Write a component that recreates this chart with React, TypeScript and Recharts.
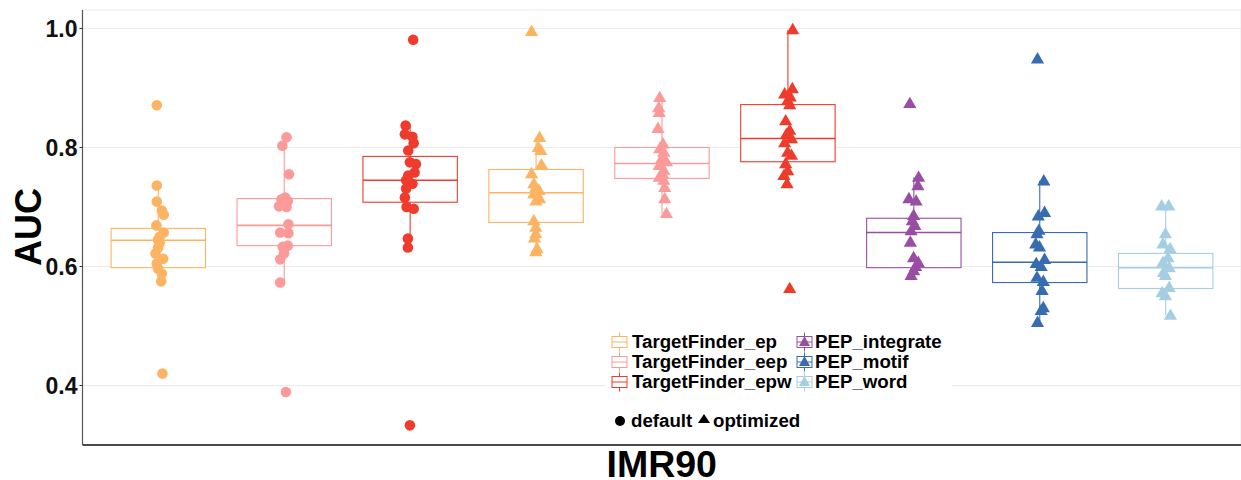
import React from 'react';
import { ComposedChart, Bar, Scatter, XAxis, YAxis, CartesianGrid, Label } from 'recharts';

const categories = [
  'ep_default', 'eep_default', 'epw_default',
  'ep_optimized', 'eep_optimized', 'epw_optimized',
  'integrate_optimized', 'motif_optimized', 'word_optimized',
];
const methods = [
  'TargetFinder_ep', 'TargetFinder_eep', 'TargetFinder_epw',
  'TargetFinder_ep', 'TargetFinder_eep', 'TargetFinder_epw',
  'PEP_integrate', 'PEP_motif', 'PEP_word',
];
const modes = ['default', 'default', 'default', 'optimized', 'optimized', 'optimized', 'optimized', 'optimized', 'optimized'];
const colors = ['#FDB462', '#FB9A99', '#EF3B2C', '#FDB462', '#FB9A99', '#EF3B2C', '#984EA3', '#386CB0', '#A6CEE3'];

// box statistics
const whiskerLow = [0.576, 0.573, 0.632, 0.625, 0.689, 0.738, 0.582, 0.506, 0.518];
const q1 = [0.598, 0.635, 0.708, 0.674, 0.748, 0.776, 0.598, 0.573, 0.563];
const median = [0.644, 0.669, 0.745, 0.724, 0.773, 0.815, 0.657, 0.607, 0.598];
const q3 = [0.664, 0.714, 0.785, 0.763, 0.800, 0.872, 0.681, 0.657, 0.622];
const whiskerHigh = [0.736, 0.803, 0.837, 0.817, 0.884, 0.998, 0.750, 0.744, 0.702];

// individual AUC values per group
const aucValues: number[][] = [
  [0.871, 0.736, 0.709, 0.694, 0.687, 0.669, 0.657, 0.650, 0.645, 0.640, 0.632, 0.622, 0.613, 0.605, 0.596, 0.588, 0.575, 0.420],
  [0.817, 0.803, 0.755, 0.716, 0.713, 0.710, 0.701, 0.700, 0.671, 0.657, 0.656, 0.635, 0.633, 0.622, 0.612, 0.573, 0.389],
  [0.981, 0.837, 0.822, 0.818, 0.807, 0.795, 0.775, 0.772, 0.758, 0.753, 0.745, 0.739, 0.731, 0.716, 0.700, 0.697, 0.647, 0.632, 0.333],
  [0.995, 0.817, 0.800, 0.795, 0.771, 0.756, 0.739, 0.733, 0.728, 0.722, 0.714, 0.710, 0.677, 0.666, 0.655, 0.648, 0.630, 0.625],
  [0.884, 0.867, 0.859, 0.832, 0.806, 0.798, 0.792, 0.781, 0.776, 0.770, 0.762, 0.756, 0.750, 0.745, 0.733, 0.714, 0.689],
  [0.998, 0.899, 0.890, 0.885, 0.879, 0.872, 0.845, 0.829, 0.822, 0.815, 0.808, 0.792, 0.787, 0.773, 0.761, 0.753, 0.739, 0.563],
  [0.874, 0.750, 0.736, 0.714, 0.710, 0.686, 0.677, 0.669, 0.660, 0.641, 0.615, 0.607, 0.600, 0.593, 0.585],
  [0.949, 0.744, 0.691, 0.685, 0.661, 0.655, 0.638, 0.633, 0.612, 0.605, 0.600, 0.582, 0.575, 0.560, 0.531, 0.526, 0.506],
  [0.702, 0.702, 0.655, 0.638, 0.630, 0.615, 0.607, 0.598, 0.590, 0.585, 0.565, 0.556, 0.551, 0.518],
];
// horizontal jitter of each point (in category units)
const jitter: number[][] = [
  [-0.01, -0.01, -0.01, 0.03, 0.045, -0.013, 0.045, 0.013, 0, 0.013, 0, -0.02, 0.04, -0.01, 0, 0.03, 0.025, 0.035],
  [0.02, -0.013, 0.04, 0.01, -0.02, 0.03, -0.04, 0.02, 0.035, -0.03, 0.035, 0.03, -0.01, 0, -0.03, -0.03, 0.015],
  [0.026, -0.034, -0.04, 0.02, 0.03, -0.013, 0, 0.048, 0.037, -0.013, -0.03, 0.02, -0.03, -0.04, -0.026, 0.03, -0.016, -0.016, 0],
  [-0.034, 0.03, 0.02, 0.04, 0.045, -0.034, -0.016, 0, 0.026, -0.016, 0.03, 0, -0.016, 0, 0, -0.01, 0.01, 0],
  [-0.016, -0.024, -0.02, -0.03, 0.01, -0.016, 0.016, 0, 0.037, -0.02, 0.016, 0.005, -0.02, 0.016, 0.024, 0.024, 0.037],
  [0.04, 0.037, -0.024, 0.02, 0, 0.016, -0.016, 0.016, -0.01, 0.03, -0.024, 0, 0.03, -0.016, 0, -0.03, -0.005, 0.016],
  [-0.03, 0.04, 0.034, -0.037, 0.02, 0, -0.01, 0.01, -0.02, -0.026, 0, 0.037, 0.016, 0, -0.02],
  [-0.016, 0.034, 0.04, -0.01, -0.005, -0.02, -0.03, 0, 0.04, -0.026, 0.013, -0.02, 0.03, 0.02, 0.03, 0.013, -0.016],
  [-0.03, 0.026, 0, -0.02, 0.037, 0.02, -0.02, 0.03, -0.016, 0, 0.03, -0.026, 0, 0.04],
];

const yTicks = [0.4, 0.6, 0.8, 1.0];
const xTicks = [1, 2, 3, 4, 5, 6, 7, 8, 9];

const FONT = '"Liberation Sans", Arial, Helvetica, sans-serif';

const boxData = categories.map((name, i) => ({
  name,
  lo: whiskerLow[i],
  q1: q1[i],
  med: median[i],
  q3: q3[i],
  hi: whiskerHigh[i],
  color: colors[i],
}));

const pointSeries = categories.map((name, i) => ({
  name,
  color: colors[i],
  mode: modes[i],
  data: aucValues[i].map((v, j) => ({ x: i + 1 + jitter[i][j], y: v })),
}));

const BoxShape = (props: any) => {
  const { x, y, width, height, payload } = props;
  const top = Math.min(y, y + height);
  const h = Math.abs(height);
  const k = h / (payload.hi - payload.lo);
  const py = (v: number) => top + (payload.hi - v) * k;
  const cx = x + width / 2;
  return (
    <g>
      <line x1={cx} x2={cx} y1={py(payload.hi)} y2={py(payload.lo)} stroke={payload.color} strokeWidth={1.1} />
      <rect x={x} y={py(payload.q3)} width={width} height={py(payload.q1) - py(payload.q3)} fill="#fff" stroke={payload.color} strokeWidth={1.1} />
      <line x1={x} x2={x + width} y1={py(payload.med)} y2={py(payload.med)} stroke={payload.color} strokeWidth={1.6} />
    </g>
  );
};

const circleShape = (color: string) => (p: any) => <circle cx={p.cx} cy={p.cy} r={5.3} fill={color} />;
const triangleShape = (color: string) => (p: any) => (
  <polygon points={`${p.cx},${p.cy - 6.8} ${p.cx - 6.6},${p.cy + 4.6} ${p.cx + 6.6},${p.cy + 4.6}`} fill={color} />
);

const LegendKey = ({ x, y, color, tri }: { x: number; y: number; color: string; tri: boolean }) => (
  <g>
    <line x1={x + 7.5} x2={x + 7.5} y1={y - 9.5} y2={y + 9.5} stroke={color} strokeWidth={1} />
    <rect x={x} y={y - 5.5} width={15} height={11} fill="#fff" stroke={color} strokeWidth={1} />
    <line x1={x} x2={x + 15} y1={y} y2={y} stroke={color} strokeWidth={1} />
    {tri && <polygon points={`${x + 7.5},${y - 6} ${x + 2},${y + 4} ${x + 13},${y + 4}`} fill={color} />}
  </g>
);

const legendCol1 = [0, 1, 2];
const legendCol2 = [6, 7, 8];
const legendRows = [342, 362, 382];

export default function App() {
  return (
    <div style={{ position: 'absolute', left: 0, top: 0, width: 1241, height: 480, background: '#fff', fontFamily: FONT }}>
      <ComposedChart width={1241} height={480} data={boxData} margin={{ top: 10, right: 0, bottom: 0, left: 0 }}>
        <CartesianGrid xAxisId="num" stroke="#ebebeb" strokeWidth={1} />
        <XAxis
          xAxisId="num"
          dataKey="x"
          type="number"
          domain={[0.4, 9.6]}
          ticks={xTicks}
          tick={false}
          tickLine={false}
          axisLine={{ stroke: '#111', strokeWidth: 1.4 }}
          height={35}
        >
          <Label
            content={() => (
              <text x={661.7} y={477} textAnchor="middle" fontFamily={FONT} fontWeight="bold" fontSize={37.5} fill="#000">
                IMR90
              </text>
            )}
          />
        </XAxis>
        <XAxis xAxisId="cat" dataKey="name" type="category" hide height={0} padding={{ left: 12.6, right: 12.6 }} />
        <YAxis
          dataKey="y"
          type="number"
          domain={[0.3, 1.031]}
          ticks={yTicks}
          allowDataOverflow
          width={82.5}
          tickSize={3}
          tickMargin={2}
          tickLine={{ stroke: '#333' }}
          axisLine={{ stroke: '#555', strokeWidth: 1.2 }}
          tickFormatter={(v: number) => v.toFixed(1)}
          tick={{ fill: '#111', fontSize: 23, fontWeight: 'bold', fontFamily: FONT }}
        >
          <Label
            content={() => (
              <text
                x={28}
                y={227}
                transform="rotate(-90 28 227)"
                textAnchor="middle"
                dominantBaseline="central"
                fontFamily={FONT}
                fontWeight="bold"
                fontSize={36}
                fill="#000"
              >
                AUC
              </text>
            )}
          />
        </YAxis>
        <Bar xAxisId="cat" dataKey={(d: any) => [d.lo, d.hi]} barSize={94.4} shape={BoxShape} isAnimationActive={false} />
        {pointSeries.map((s) => (
          <Scatter
            key={s.name}
            xAxisId="num"
            data={s.data}
            fill={s.color}
            shape={s.mode === 'default' ? circleShape(s.color) : triangleShape(s.color)}
            isAnimationActive={false}
          />
        ))}
      </ComposedChart>
      <svg width={1241} height={480} style={{ position: 'absolute', left: 0, top: 0, pointerEvents: 'none' }}>
        <rect x={605} y={325} width={347} height={79} fill="#fff" />
        <rect x={610} y={404} width={200} height={32} fill="#fff" />
        {legendCol1.map((gi, r) => (
          <g key={'a' + gi}>
            <LegendKey x={612} y={legendRows[r]} color={colors[gi]} tri={false} />
            <text x={632} y={legendRows[r] + 5.5} fontFamily={FONT} fontWeight="bold" fontSize={18.7} fill="#000">
              {methods[gi]}
            </text>
          </g>
        ))}
        {legendCol2.map((gi, r) => (
          <g key={'b' + gi}>
            <LegendKey x={797} y={legendRows[r]} color={colors[gi]} tri={true} />
            <text x={815} y={legendRows[r] + 5.5} fontFamily={FONT} fontWeight="bold" fontSize={18.7} fill="#000">
              {methods[gi]}
            </text>
          </g>
        ))}
        <circle cx={620} cy={421} r={5} fill="#000" />
        <text x={631} y={427} fontFamily={FONT} fontWeight="bold" fontSize={18.7} fill="#000">default</text>
        <polygon points="704,414 698,423 710,423" fill="#000" />
        <text x={713} y={427} fontFamily={FONT} fontWeight="bold" fontSize={18.7} fill="#000">optimized</text>
      </svg>
    </div>
  );
}
